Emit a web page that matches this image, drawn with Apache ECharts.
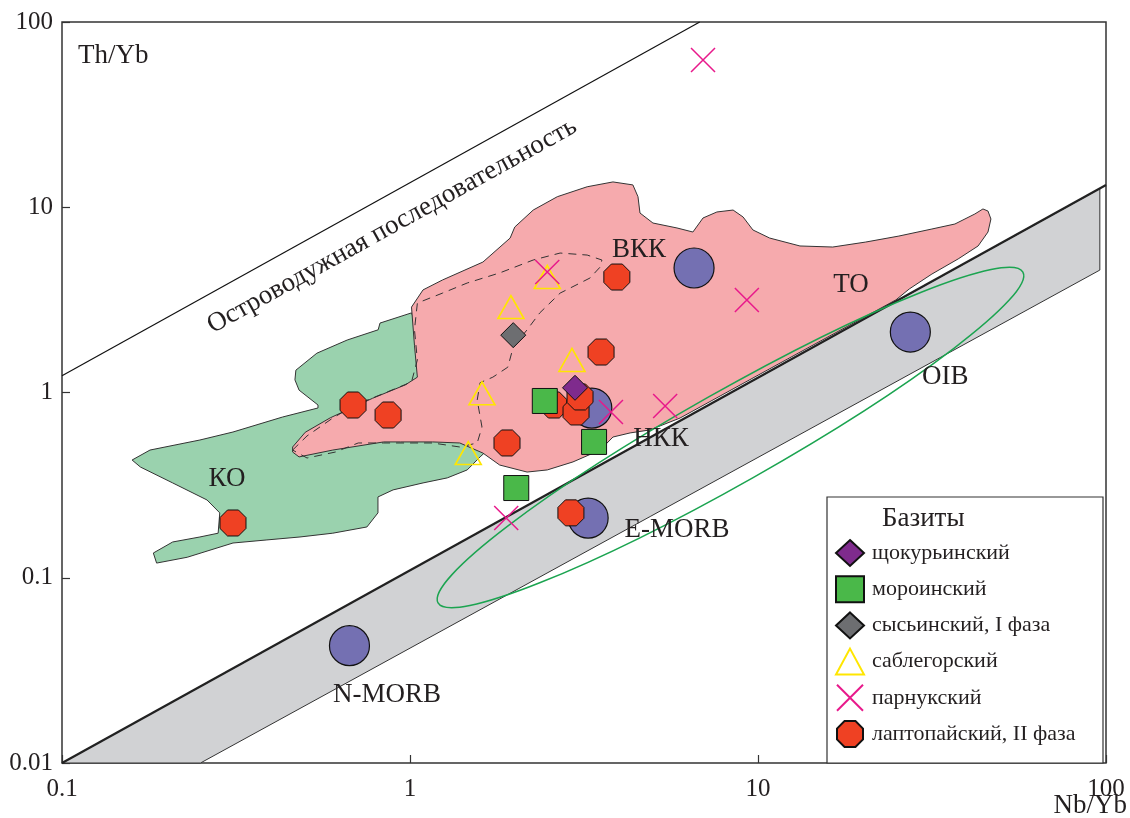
<!DOCTYPE html>
<html>
<head>
<meta charset="utf-8">
<title>Th/Yb – Nb/Yb</title>
<script src="https://cdn.jsdelivr.net/npm/echarts@6.0.0/dist/echarts.min.js"></script>
<style>
  html, body { margin: 0; padding: 0; background: #fff; }
  #chart { width: 1130px; height: 818px; }
</style>
</head>
<body>
<div id="chart"></div>
<script>
// --- данные (Nb/Yb, Th/Yb) ---
const xTicks = [0.1, 1, 10, 100];
const yTicks = [0.01, 0.1, 1, 10, 100];

// образцы
const shchokurya = [[2.98, 1.06]];
const moroya = [[2.44, 0.9], [3.38, 0.541], [2.02, 0.305]];
const sysya = [[1.98, 2.04]];
const sablegora = [[2.48, 4.2], [1.95, 2.89], [2.92, 1.5], [1.61, 0.99], [1.47, 0.471]];
const parnuk = [[6.95, 62.4], [2.48, 4.47], [9.29, 3.16], [3.78, 0.785], [5.41, 0.846], [1.89, 0.21]];
const laptopai = [
  [0.31, 0.1975], [0.686, 0.856], [0.865, 0.756], [3.93, 4.2], [3.54, 1.654],
  [1.9, 0.534], [2.9, 0.224], [2.59, 0.856], [3.0, 0.785], [3.08, 0.946]
];
// эталонные составы (N-MORB, E-MORB, OIB и др.)
const refPoints = [[0.67, 0.043], [3.25, 0.21], [27.4, 2.12], [6.55, 4.7], [3.33, 0.824]];

// поле MORB-OIB
const bandOutline = [[0.1, 0.01], [96, 12.6], [96, 4.58], [0.25, 0.01]];
const bandUpperLine = [[0.1, 0.01], [100, 13.2]];
// островодужная последовательность
const arcLine = [[0.1, 1.23], [6.8, 100]];
// эллипс: концы большой оси
const ellipseTips = [[1.204, 0.0731], [57.7, 4.47]];

// поле ТО
const toOutline = [
  [0.46, 0.508], [0.5, 0.61], [0.59, 0.73], [0.78, 0.93], [0.97, 1.1], [1.05, 1.21],
  [1.03, 1.8], [1.01, 2.89], [1.09, 3.58], [1.24, 4.05], [1.62, 5.06], [1.94, 6.82],
  [2.0, 7.82], [2.26, 9.66], [2.65, 11.4], [3.23, 12.9], [3.83, 13.7], [4.37, 13.2],
  [4.52, 11.4], [4.58, 9.31], [4.99, 8.22], [5.85, 7.73], [6.5, 7.35], [6.95, 8.75],
  [7.62, 9.43], [8.48, 9.66], [9.06, 8.86], [9.67, 7.54], [10.8, 6.82], [13.2, 6.18],
  [16.4, 6.1], [20.4, 6.49], [25.4, 6.99], [31.6, 7.63], [36.8, 8.12], [42.0, 9.2],
  [44.3, 9.79], [45.8, 9.54], [46.7, 8.64], [45.8, 7.35], [42.9, 6.18], [37.6, 5.26],
  [31.6, 4.36], [27.2, 3.62], [24.9, 3.16], [13.2, 1.65], [7.78, 0.957], [5.97, 0.728],
  [4.89, 0.628], [4.29, 0.605], [3.83, 0.575], [3.52, 0.489], [2.94, 0.422], [2.48, 0.382],
  [2.17, 0.372], [1.81, 0.406], [1.62, 0.471], [1.39, 0.534], [1.16, 0.541], [0.94, 0.541],
  [0.84, 0.541], [0.6, 0.489], [0.48, 0.449], [0.46, 0.477]
];
// поле КО
const koOutline = [
  [1.01, 2.69], [0.82, 2.37], [0.81, 2.18], [0.66, 1.92], [0.54, 1.63], [0.47, 1.32],
  [0.467, 1.17], [0.48, 1.03], [0.544, 0.856], [0.544, 0.825], [0.43, 0.737], [0.31, 0.612],
  [0.249, 0.554], [0.179, 0.489], [0.159, 0.432], [0.168, 0.396], [0.208, 0.325], [0.261, 0.263],
  [0.284, 0.224], [0.281, 0.174], [0.249, 0.166], [0.208, 0.156], [0.183, 0.136], [0.187, 0.12],
  [0.229, 0.129], [0.31, 0.154], [0.388, 0.16], [0.483, 0.166], [0.6, 0.174], [0.752, 0.188],
  [0.809, 0.224], [0.809, 0.273], [0.894, 0.298], [1.09, 0.325], [1.28, 0.346], [1.46, 0.382],
  [1.59, 0.449], [1.67, 0.489], [1.49, 0.911], [1.14, 1.5]
];
// пунктирный контур
const dashedOutline = [
  [0.46, 0.489], [0.506, 0.583], [0.6, 0.728], [0.695, 0.856], [0.82, 0.97], [1.01, 1.14],
  [1.05, 1.5], [1.03, 2.18], [1.05, 3.04], [1.24, 3.44], [1.46, 3.9], [1.81, 4.42],
  [2.26, 5.19], [2.7, 5.66], [3.23, 5.52], [3.56, 5.19], [3.52, 4.76], [3.29, 4.15],
  [2.7, 3.44], [2.36, 2.69], [2.17, 2.18], [1.98, 1.76], [1.91, 1.37], [1.73, 1.21],
  [1.59, 1.13], [1.56, 0.911], [1.61, 0.651], [1.56, 0.534], [1.39, 0.508], [1.16, 0.534],
  [0.84, 0.534], [0.71, 0.534], [0.61, 0.477], [0.506, 0.443]
];

// подписи полей
const fieldNames = ['ТО', 'ВКК', 'НКК', 'КО', 'E-MORB', 'OIB', 'N-MORB'];
const fieldPos = [[18.5, 3.8], [4.55, 5.88], [5.26, 0.561], [0.298, 0.341], [5.85, 0.181], [34.5, 1.21], [0.859, 0.0233]];
const arcName = 'Островодужная последовательность';
const arcNamePos = [0.888, 7.92];

const legendNames = ['щокурьинский', 'мороинский', 'сысьинский, I фаза', 'саблегорский', 'парнукский', 'лаптопайский, II фаза'];

const serif = '"Liberation Serif", "Times New Roman", serif';
const OCTAGON = 'path://M29,0L71,0L100,29L100,71L71,100L29,100L0,71L0,29Z';
const CROSS = 'path://M0,0L100,100M100,0L0,100';

function shapeSeries(pts, style, closed) {
  return {
    type: 'custom',
    coordinateSystem: 'cartesian2d',
    silent: true,
    data: [pts[0]],
    renderItem: function (params, api) {
      return {
        type: closed === false ? 'polyline' : 'polygon',
        shape: { points: pts.map(function (p) { return api.coord(p); }) },
        style: style
      };
    }
  };
}

function pointSeries(name, data, symbol, size, itemStyle) {
  return {
    name: name,
    type: 'scatter',
    data: data,
    symbol: symbol,
    symbolSize: size,
    itemStyle: itemStyle,
    emphasis: { disabled: true }
  };
}

const chart = echarts.init(document.getElementById('chart'));

const option = {
  animation: false,
  grid: {
    show: true, left: 62, right: 24, top: 22, bottom: 55,
    borderColor: '#333', borderWidth: 1.5, backgroundColor: 'transparent'
  },
  xAxis: {
    type: 'log', logBase: 10, min: xTicks[0], max: xTicks[xTicks.length - 1],
    axisLine: { show: false },
    axisTick: { inside: true, length: 8, lineStyle: { color: '#333', width: 1.2 } },
    splitLine: { show: false },
    minorTick: { show: false },
    axisLabel: {
      margin: 14, color: '#231f20', fontFamily: serif, fontSize: 25,
      formatter: function (v) { return String(+v.toPrecision(2)); }
    }
  },
  yAxis: {
    type: 'log', logBase: 10, min: yTicks[0], max: yTicks[yTicks.length - 1],
    axisLine: { show: false },
    axisTick: { inside: true, length: 8, lineStyle: { color: '#333', width: 1.2 } },
    splitLine: { show: false },
    axisLabel: {
      margin: 9, color: '#231f20', fontFamily: serif, fontSize: 25,
      formatter: function (v) { return String(+v.toPrecision(2)); }
    }
  },
  legend: {
    data: legendNames,
    orient: 'vertical',
    left: 835, top: 539, padding: 0,
    itemWidth: 28, itemHeight: 26, itemGap: 8.2,
    selectedMode: false,
    textStyle: { fontFamily: serif, fontSize: 22, lineHeight: 26, color: '#231f20', padding: [0, 0, 0, 3] }
  },
  graphic: [
    { type: 'rect', silent: true, shape: { x: 827, y: 497, width: 276, height: 266 },
      style: { fill: '#fff', stroke: '#333', lineWidth: 1.2 }, z: 0 },
    { type: 'text', left: 882, top: 505, silent: true,
      style: { text: 'Базиты', font: '27px ' + serif, fill: '#231f20' } },
    { type: 'text', left: 78, top: 42, silent: true,
      style: { text: 'Th/Yb', font: '27px ' + serif, fill: '#231f20' } },
    { type: 'text', right: 3, top: 792, silent: true,
      style: { text: 'Nb/Yb', font: '27px ' + serif, fill: '#231f20' } }
  ],
  series: [
    shapeSeries(bandOutline, { fill: '#d1d2d4', stroke: '#333', lineWidth: 1 }),
    shapeSeries(koOutline, { fill: '#9ad2ae', stroke: '#333', lineWidth: 1 }),
    shapeSeries(toOutline, { fill: '#f6aaad', stroke: '#333', lineWidth: 1 }),
    shapeSeries(dashedOutline, { fill: 'none', stroke: '#333', lineWidth: 1, lineDash: [8, 6] }),
    shapeSeries(bandUpperLine, { fill: 'none', stroke: '#222', lineWidth: 2.2 }, false),
    shapeSeries(arcLine, { fill: 'none', stroke: '#111', lineWidth: 1.2 }, false),
    {
      type: 'custom',
      coordinateSystem: 'cartesian2d',
      silent: true,
      data: [ellipseTips[0]],
      renderItem: function (params, api) {
        const a = api.coord(ellipseTips[0]);
        const b = api.coord(ellipseTips[1]);
        return {
          type: 'ellipse',
          x: (a[0] + b[0]) / 2,
          y: (a[1] + b[1]) / 2,
          rotation: Math.atan2(a[1] - b[1], b[0] - a[0]),
          shape: { cx: 0, cy: 0, rx: Math.hypot(b[0] - a[0], b[1] - a[1]) / 2, ry: 46 },
          style: { fill: 'none', stroke: '#1ba450', lineWidth: 1.5 }
        };
      }
    },
    {
      type: 'scatter',
      silent: true,
      symbolSize: 0,
      itemStyle: { opacity: 1 },
      data: fieldNames.map(function (n, i) { return { name: n, value: fieldPos[i] }; })
        .concat([{ name: arcName, value: arcNamePos, label: { rotate: 29, fontSize: 27 } }]),
      label: {
        show: true, position: 'inside', formatter: '{b}',
        fontFamily: serif, fontSize: 27, color: '#231f20', opacity: 1,
        textBorderWidth: 0, textBorderColor: 'transparent'
      }
    },
    pointSeries('эталоны', refPoints, 'circle', 40,
      { color: '#7470b2', borderColor: '#111', borderWidth: 1.2, opacity: 1 }),
    pointSeries(legendNames[5], laptopai, OCTAGON, 26,
      { color: '#ef4123', borderColor: '#111', borderWidth: 1, opacity: 1 }),
    pointSeries(legendNames[1], moroya, 'rect', 25,
      { color: '#4ab849', borderColor: '#111', borderWidth: 1, opacity: 1 }),
    pointSeries(legendNames[0], shchokurya, 'diamond', 25,
      { color: '#7f2b8d', borderColor: '#111', borderWidth: 1, opacity: 1 }),
    pointSeries(legendNames[2], sysya, 'diamond', 25,
      { color: '#6d6e71', borderColor: '#111', borderWidth: 1, opacity: 1 }),
    pointSeries(legendNames[3], sablegora, 'triangle', [26, 23],
      { color: 'rgba(255,255,255,0)', borderColor: '#ffe600', borderWidth: 1.6, opacity: 1 }),
    pointSeries(legendNames[4], parnuk, CROSS, 24,
      { color: 'rgba(255,255,255,0)', borderColor: '#e8198b', borderWidth: 1.5, opacity: 1 })
  ]
};

chart.setOption(option);
window.addEventListener('resize', function () {
  chart.resize();
});
</script>
</body>
</html>
